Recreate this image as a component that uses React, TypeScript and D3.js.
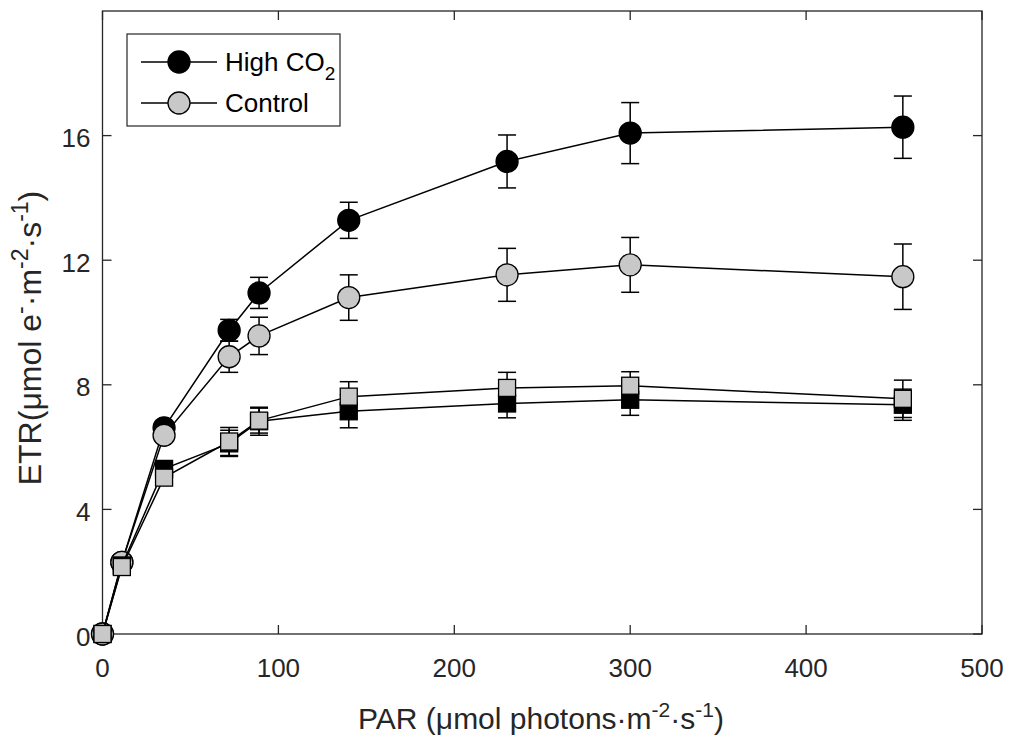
import { useRef, useEffect } from 'react';
import * as d3 from 'd3';

const par = [0, 11, 35, 72, 89, 140, 230, 300, 455];

const highCircle = [0, 2.3, 6.62, 9.75, 10.95, 13.28, 15.17, 16.08, 16.27];
const highCircleErr = [0.1, 0.15, 0.2, 0.35, 0.5, 0.58, 0.85, 0.98, 1.0];

const ctrlCircle = [0, 2.3, 6.38, 8.9, 9.57, 10.8, 11.53, 11.85, 11.47];
const ctrlCircleErr = [0.1, 0.15, 0.2, 0.5, 0.6, 0.73, 0.85, 0.88, 1.05];

const highSquare = [0, 2.2, 5.3, 6.12, 6.83, 7.15, 7.4, 7.52, 7.36];
const highSquareErr = [0.1, 0.12, 0.2, 0.42, 0.45, 0.53, 0.46, 0.5, 0.5];

const ctrlSquare = [0, 2.15, 5.02, 6.18, 6.85, 7.62, 7.9, 7.97, 7.55];
const ctrlSquareErr = [0.1, 0.12, 0.2, 0.45, 0.4, 0.48, 0.5, 0.45, 0.6];

const xTicks = [0, 100, 200, 300, 400, 500];
const yTicks = [0, 4, 8, 12, 16];

const legendLabels = ['High CO', 'Control'];

export default function App() {
  const svgRef = useRef<SVGSVGElement>(null);

  useEffect(() => {
    if (!svgRef.current) return;
    const svg = d3.select(svgRef.current);
    svg.selectAll('*').remove();

    const width = 1011;
    const height = 737;
    const left = 102.5, right = 982, top = 11, bottom = 634;
    const axisColor = '#262626';
    const font = 'Liberation Sans, Arial, sans-serif';
    const fs = 26;

    svg.attr('width', width).attr('height', height);
    svg.append('rect').attr('width', width).attr('height', height).attr('fill', '#fff');

    const x = d3.scaleLinear().domain([0, 500]).range([left, right]);
    const y = d3.scaleLinear().domain([0, 20]).range([bottom, top]);

    // Box + inward ticks
    const g = svg.append('g');
    const tickLen = 9;
    xTicks.forEach((t) => {
      g.append('line').attr('x1', x(t)).attr('x2', x(t)).attr('y1', bottom).attr('y2', bottom - tickLen)
        .attr('stroke', axisColor).attr('stroke-width', 1.3);
      g.append('line').attr('x1', x(t)).attr('x2', x(t)).attr('y1', top).attr('y2', top + tickLen)
        .attr('stroke', axisColor).attr('stroke-width', 1.3);
      g.append('text').attr('x', x(t)).attr('y', 677).attr('text-anchor', 'middle')
        .attr('font-family', font).attr('font-size', fs).attr('fill', axisColor).text(t);
    });
    yTicks.forEach((t) => {
      g.append('line').attr('x1', left).attr('x2', left + tickLen).attr('y1', y(t)).attr('y2', y(t))
        .attr('stroke', axisColor).attr('stroke-width', 1.3);
      g.append('line').attr('x1', right).attr('x2', right - tickLen).attr('y1', y(t)).attr('y2', y(t))
        .attr('stroke', axisColor).attr('stroke-width', 1.3);
      g.append('text').attr('x', left - 12).attr('y', y(t) + 11.5).attr('text-anchor', 'end')
        .attr('font-family', font).attr('font-size', fs).attr('fill', axisColor).text(t);
    });
    g.append('rect').attr('x', left).attr('y', top).attr('width', right - left).attr('height', bottom - top)
      .attr('fill', 'none').attr('stroke', axisColor).attr('stroke-width', 1.3);

    // Axis labels
    const lfs = 30, sfs = 21, sh = 12;
    const xl = g.append('text').attr('x', 541).attr('y', 729).attr('text-anchor', 'middle')
      .attr('font-family', font).attr('font-size', lfs).attr('fill', axisColor);
    xl.append('tspan').text('PAR (μmol photons·m');
    xl.append('tspan').attr('dy', -sh).attr('font-size', sfs).text('-2');
    xl.append('tspan').attr('dy', sh).text('·s');
    xl.append('tspan').attr('dy', -sh).attr('font-size', sfs).text('-1');
    xl.append('tspan').attr('dy', sh).text(')');

    const yl = g.append('text').attr('transform', `translate(41,338) rotate(-90)`).attr('text-anchor', 'middle')
      .attr('font-family', font).attr('font-size', 32).attr('fill', axisColor);
    yl.append('tspan').text('ETR(μmol e');
    yl.append('tspan').attr('dy', -13).attr('font-size', 23).text('-');
    yl.append('tspan').attr('dy', 13).text('·m');
    yl.append('tspan').attr('dy', -13).attr('font-size', 23).text('-2');
    yl.append('tspan').attr('dy', 13).text('·s');
    yl.append('tspan').attr('dy', -13).attr('font-size', 23).text('-1');
    yl.append('tspan').attr('dy', 13).text(')');

    const series = [
      { vals: highCircle, err: highCircleErr, fill: '#000000', shape: 'circle' },
      { vals: ctrlCircle, err: ctrlCircleErr, fill: '#c8c8c8', shape: 'circle' },
      { vals: highSquare, err: highSquareErr, fill: '#000000', shape: 'square' },
      { vals: ctrlSquare, err: ctrlSquareErr, fill: '#c8c8c8', shape: 'square' },
    ];

    const line = d3.line<number>().x((_, i) => x(par[i])).y((d) => y(d));
    const cap = 9;

    series.forEach((s) => {
      const sg = svg.append('g');
      s.vals.forEach((v, i) => {
        const cx = x(par[i]);
        const y1 = y(v + s.err[i]);
        const y2 = y(v - s.err[i]);
        sg.append('line').attr('x1', cx).attr('x2', cx).attr('y1', y1).attr('y2', y2)
          .attr('stroke', '#000').attr('stroke-width', 1.5);
        [y1, y2].forEach((yy) => {
          sg.append('line').attr('x1', cx - cap).attr('x2', cx + cap).attr('y1', yy).attr('y2', yy)
            .attr('stroke', '#000').attr('stroke-width', 1.5);
        });
      });
      sg.append('path').datum(s.vals).attr('d', line).attr('fill', 'none')
        .attr('stroke', '#000').attr('stroke-width', 1.5);
      s.vals.forEach((v, i) => {
        if (s.shape === 'circle') {
          sg.append('circle').attr('cx', x(par[i])).attr('cy', y(v)).attr('r', 11)
            .attr('fill', s.fill).attr('stroke', '#000').attr('stroke-width', 1.3);
        } else {
          sg.append('rect').attr('x', x(par[i]) - 8.5).attr('y', y(v) - 8.5).attr('width', 17).attr('height', 17)
            .attr('fill', s.fill).attr('stroke', '#000').attr('stroke-width', 1.3);
        }
      });
    });

    // Legend
    const lg = svg.append('g');
    lg.append('rect').attr('x', 127).attr('y', 34).attr('width', 213).attr('height', 92)
      .attr('fill', '#fff').attr('stroke', axisColor).attr('stroke-width', 1.2);
    const legendFills = ['#000000', '#c8c8c8'];
    legendLabels.forEach((lab, i) => {
      const ly = 62 + i * 41;
      lg.append('line').attr('x1', 141).attr('x2', 217).attr('y1', ly).attr('y2', ly)
        .attr('stroke', '#000').attr('stroke-width', 1.5);
      lg.append('circle').attr('cx', 179).attr('cy', ly).attr('r', 11)
        .attr('fill', legendFills[i]).attr('stroke', '#000').attr('stroke-width', 1.3);
      const t = lg.append('text').attr('x', 225).attr('y', ly + 9).attr('font-family', font)
        .attr('font-size', 26).attr('fill', '#000');
      t.append('tspan').text(lab);
      if (i === 0) t.append('tspan').attr('dy', 9).attr('font-size', 19).text('2');
    });
  }, []);

  return <svg ref={svgRef} style={{ display: 'block', position: 'absolute', left: 0, top: 0 }} />;
}
